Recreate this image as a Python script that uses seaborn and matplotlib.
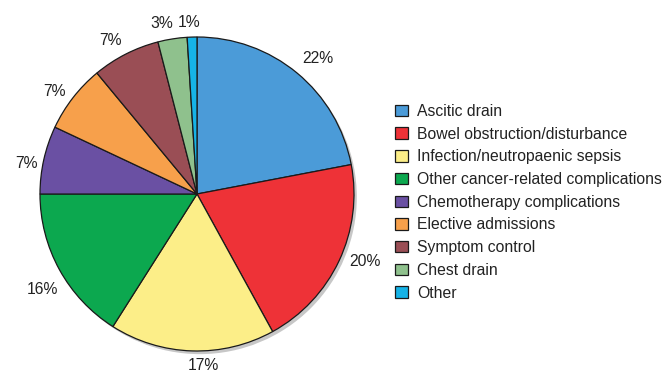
import matplotlib
matplotlib.use("Agg")
import matplotlib.pyplot as plt
from matplotlib.patches import Circle
import seaborn as sns

categories = [
    "Ascitic drain",
    "Bowel obstruction/disturbance",
    "Infection/neutropaenic sepsis",
    "Other cancer-related complications",
    "Chemotherapy complications",
    "Elective admissions",
    "Symptom control",
    "Chest drain",
    "Other",
]
shares = [22, 20, 17, 16, 7, 7, 7, 3, 1]
colors = ["#4b9bd8", "#ee3237", "#fcee88", "#0ca84f", "#6a50a3",
          "#f7a04b", "#9a4e55", "#8fc18d", "#16b3e7"]

# small hand offsets (pixels, right / down) for the percentage labels
label_nudge_px = [(9, 0), (9, -7), (12, -4), (0, 11), (1, 8),
                  (-4, 5), (-7, 3), (-8, 3), (-2, 4)]

sns.set_theme(style="white")
plt.rcParams["font.family"] = ["Liberation Sans", "DejaVu Sans"]

W, H = 665, 374
fig = plt.figure(figsize=(W / 100, H / 100), dpi=100)

# square axes holding the pie, centred at (197, 194) px with radius 157 px
R = 157
half = 1.3
S = 2 * half * R
cx, cy = 197, H - 194
ax = fig.add_axes([(cx - S / 2) / W, (cy - S / 2) / H, S / W, S / H])

# soft drop shadow under the pie
ax.add_patch(Circle((0.018, -0.02), 1.0, facecolor="#9a9a9a", edgecolor="none",
                    alpha=0.55, zorder=0))

wedges, _, pcts = ax.pie(
    shares,
    colors=colors,
    startangle=90,
    counterclock=False,
    autopct=lambda p: f"{p:.0f}%",
    pctdistance=1.12,
    wedgeprops=dict(edgecolor="#1a1a1a", linewidth=0.9),
    textprops=dict(fontsize=11.3, color="#222222"),
)
for t, (dx, dy) in zip(pcts, label_nudge_px):
    x, y = t.get_position()
    t.set_position((x + dx / R, y - dy / R))

ax.set_xlim(-half, half)
ax.set_ylim(-half, half)
ax.set_aspect("equal")
ax.axis("off")

fig.legend(
    wedges, categories,
    loc="upper left",
    bbox_to_anchor=(395 / W, 1 - 104 / H),
    frameon=False,
    fontsize=11.3,
    handlelength=0.85,
    handleheight=0.75,
    handletextpad=0.55,
    labelspacing=0.49,
    borderpad=0,
    borderaxespad=0,
    labelcolor="#222222",
)

fig.savefig("out.png", dpi=100)
